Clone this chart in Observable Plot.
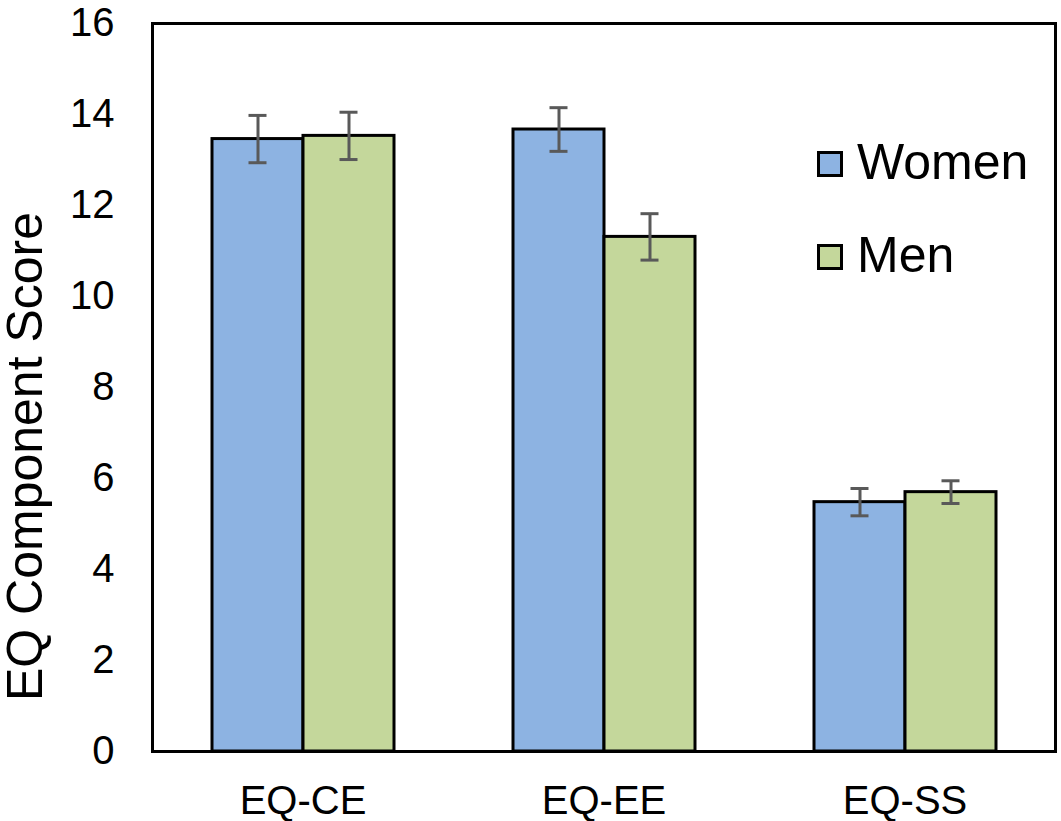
<!DOCTYPE html>
<html>
<head>
<meta charset="utf-8">
<script src="https://cdn.jsdelivr.net/npm/d3@7"></script>
<script src="https://cdn.jsdelivr.net/npm/@observablehq/plot@0.6"></script>
<style>
  html, body { margin: 0; padding: 0; background: #ffffff; }
  #wrap { position: relative; width: 1061px; height: 821px; font-family: "Liberation Sans", Arial, Helvetica, sans-serif; }
  #legend { position: absolute; left: 817px; top: 0; }
  .sw { position: absolute; left: 0; width: 20px; height: 20px; border: 3px solid #000; }
  .lab { position: absolute; left: 40px; font-size: 50px; line-height: 50px; color: #000; white-space: nowrap; }
</style>
</head>
<body>
<div id="wrap"></div>
<script>
const categories = ["EQ-CE", "EQ-EE", "EQ-SS"];
const groups = ["Women", "Men"];
const groupColors = ["#8DB3E2", "#C4D79B"];
const womenMeans = [13.46, 13.67, 5.48];
const menMeans = [13.53, 11.31, 5.70];
const womenErr = [0.52, 0.48, 0.30];
const menErr = [0.52, 0.51, 0.25];
const yTicks = [0, 2, 4, 6, 8, 10, 12, 14, 16];
const yLabel = "EQ Component Score";

const data = categories.flatMap((c, i) => [
  {category: c, group: groups[0], mean: womenMeans[i], err: womenErr[i]},
  {category: c, group: groups[1], mean: menMeans[i], err: menErr[i]}
]);

const FONT = '"Liberation Sans", Arial, Helvetica, sans-serif';

const chart = Plot.plot({
  width: 1061,
  height: 821,
  marginLeft: 152,
  marginRight: 6,
  marginTop: 23,
  marginBottom: 70,
  style: {fontFamily: FONT, fontSize: "40px", color: "#000", background: "#fff", overflow: "visible"},
  fx: {domain: categories, padding: 0, label: null},
  x: {domain: groups, paddingInner: 0, paddingOuter: 0.636},
  y: {domain: [0, 16], label: null},
  color: {domain: groups, range: groupColors},
  marks: [
    Plot.axisY(yTicks, {tickSize: 0, tickPadding: 38, fontSize: 40, label: null, fill: "#000"}),
    Plot.axisFx({anchor: "bottom", tickSize: 0, tickPadding: 33.6, fontSize: 40, label: null, fill: "#000"}),
    Plot.axisX({ticks: [], label: null}),
    Plot.barY(data, {fx: "category", x: "group", y: "mean", fill: "group", stroke: "#000", strokeWidth: 3}),
    Plot.ruleX(data, {fx: "category", x: "group", y1: d => d.mean - d.err, y2: d => d.mean + d.err, stroke: "#595959", strokeWidth: 3}),
    Plot.tickY(data, {fx: "category", x: "group", y: d => d.mean - d.err, stroke: "#595959", strokeWidth: 3, insetLeft: 36.5, insetRight: 36.5}),
    Plot.tickY(data, {fx: "category", x: "group", y: d => d.mean + d.err, stroke: "#595959", strokeWidth: 3, insetLeft: 36.5, insetRight: 36.5}),
    Plot.frame({facet: "super", stroke: "#000", strokeWidth: 3})
  ]
});

const wrap = document.getElementById("wrap");
wrap.appendChild(chart);

// y-axis title, as SVG text inside the chart
d3.select(chart).append("text")
  .attr("transform", "translate(42,456.5) rotate(-90)")
  .attr("text-anchor", "middle")
  .attr("font-size", 50)
  .attr("font-family", FONT)
  .attr("fill", "#000")
  .text(yLabel);

// legend (HTML, over the plot area)
const legend = document.createElement("div");
legend.id = "legend";
const itemTops = [136.7, 230.4];
const swTops = [151, 244];
groups.forEach((g, i) => {
  const sw = document.createElement("div");
  sw.className = "sw";
  sw.style.top = swTops[i] + "px";
  sw.style.background = groupColors[i];
  legend.appendChild(sw);
  const lab = document.createElement("div");
  lab.className = "lab";
  lab.style.top = itemTops[i] + "px";
  lab.textContent = g;
  legend.appendChild(lab);
});
wrap.appendChild(legend);
</script>
</body>
</html>
